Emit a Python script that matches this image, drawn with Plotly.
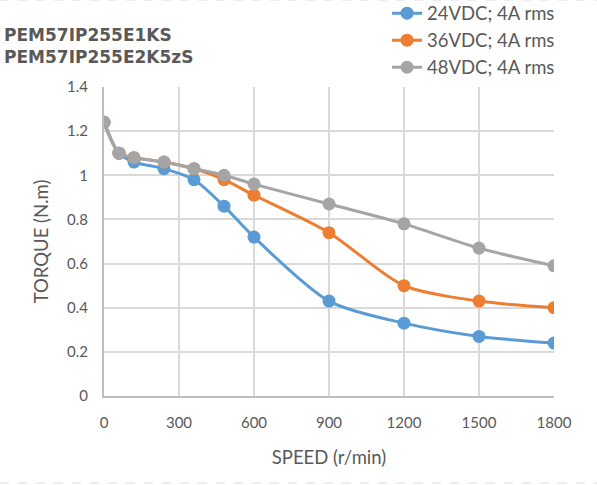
import plotly.graph_objects as go

# speed (r/min) and torque (N.m)
speed = [0, 60, 120, 240, 360, 480, 600, 900, 1200, 1500, 1800]
torque_24v = [1.24, 1.10, 1.06, 1.03, 0.98, 0.86, 0.72, 0.43, 0.33, 0.27, 0.24]
torque_36v = [1.24, 1.10, 1.08, 1.06, 1.03, 0.98, 0.91, 0.74, 0.50, 0.43, 0.40]
torque_48v = [1.24, 1.10, 1.08, 1.06, 1.03, 1.00, 0.96, 0.87, 0.78, 0.67, 0.59]

series_names = ['24VDC; 4A rms', '36VDC; 4A rms', '48VDC; 4A rms']
series_colors = ['#5B9BD5', '#ED7D31', '#A5A5A5']
x_ticks = [0, 300, 600, 900, 1200, 1500, 1800]
y_ticks = [0, 0.2, 0.4, 0.6, 0.8, 1, 1.2, 1.4]
y_tick_text = ['0', '0.2', '0.4', '0.6', '0.8', '1', '1.2', '1.4']

txt = '#595959'
fig = go.Figure()
for name, vals, col in zip(series_names, [torque_24v, torque_36v, torque_48v], series_colors):
    fig.add_trace(go.Scatter(x=speed, y=vals, name=name, mode='lines+markers',
                             line=dict(color=col, width=3, shape='spline', smoothing=0.8),
                             marker=dict(color=col, size=13),
                             legendgroup=name))

fig.update_layout(
    width=597, height=485,
    margin=dict(l=104, r=43, t=87, b=89, autoexpand=False),
    paper_bgcolor='white', plot_bgcolor='white',
    font=dict(family='Lato', size=15, color=txt),
    showlegend=True,
    legend=dict(x=0.629, y=1.299, xanchor='left', yanchor='top',
                font=dict(size=18.5, color=txt), tracegroupgap=0,
                bgcolor='rgba(0,0,0,0)'),
    xaxis=dict(range=[0, 1800], tickvals=x_ticks, showgrid=True, automargin=True,
               gridcolor='#D9D9D9', gridwidth=2, zeroline=False,
               showline=True, linecolor='#BFBFBF', linewidth=2,
               ticks='outside', ticklen=12, tickcolor='rgba(0,0,0,0)',
               title=dict(text='SPEED (r/min)', standoff=21, font=dict(size=18.5))),
    yaxis=dict(range=[0, 1.4], tickvals=y_ticks, ticktext=y_tick_text, showgrid=True,
               automargin=True,
               gridcolor='#D9D9D9', gridwidth=2, zeroline=False,
               showline=True, linecolor='#BFBFBF', linewidth=2,
               ticks='outside', ticklen=11, tickcolor='rgba(0,0,0,0)',
               title=dict(text='TORQUE (N.m)', standoff=14, font=dict(size=18.5))),
)

fig.add_annotation(x=-0.2267, y=1.207, xref='paper', yref='paper', xanchor='left', yanchor='top',
                   showarrow=False, align='left',
                   text='<b>PEM57IP255E1KS<br>PEM57IP255E2K5zS</b>',
                   font=dict(family='DejaVu Sans', size=17, color=txt))

# faint dashed frame edges at top and bottom of the page
for yy in [1.2816, -0.2816]:
    fig.add_shape(type='line', xref='paper', yref='paper', x0=-0.2311, x1=1.0956, y0=yy, y1=yy,
                  line=dict(color='#EDEDED', width=2, dash='dash'))

# page body has a default 8px margin; drop it so the figure sits at the window corner
fig.write_html('out.html', config={'displayModeBar': False},
               post_script="document.body.style.margin='0';")
